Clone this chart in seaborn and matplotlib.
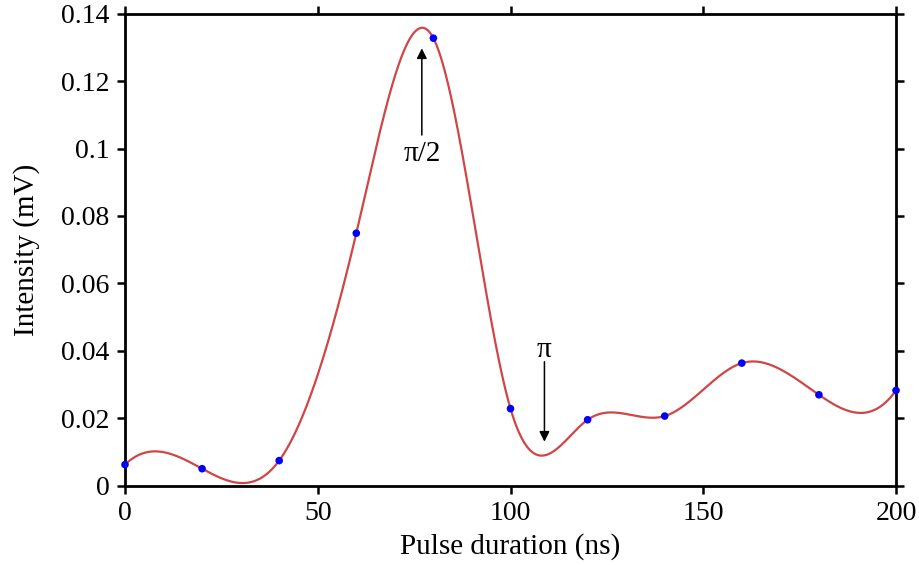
import numpy as np
import pandas as pd
import matplotlib
matplotlib.use("Agg")
import matplotlib.pyplot as plt
import seaborn as sns

# Measured intensity vs. pulse duration
pulse_ns = [0, 20, 40, 60, 80, 100, 120, 140, 160, 180, 200]
intensity_mv = [0.0063, 0.0051, 0.0075, 0.0749, 0.1327, 0.0229,
                0.0196, 0.0207, 0.0364, 0.0270, 0.0283]

# end slopes of the interpolating spline (mV per ns)
start_slope = 0.0011
end_slope = 0.0016

x_ticks = [0, 50, 100, 150, 200]
y_ticks = [0, 0.02, 0.04, 0.06, 0.08, 0.1, 0.12, 0.14]
y_tick_labels = ["0", "0.02", "0.04", "0.06", "0.08", "0.1", "0.12", "0.14"]


def clamped_cubic_spline(xk, yk, d0, dn, xs):
    """Evaluate a clamped cubic spline through (xk, yk) at xs."""
    xk = np.asarray(xk, float)
    yk = np.asarray(yk, float)
    n = len(xk)
    h = np.diff(xk)
    A = np.zeros((n, n))
    b = np.zeros(n)
    A[0, 0], A[0, 1] = 2 * h[0], h[0]
    b[0] = 6 * ((yk[1] - yk[0]) / h[0] - d0)
    A[-1, -2], A[-1, -1] = h[-1], 2 * h[-1]
    b[-1] = 6 * (dn - (yk[-1] - yk[-2]) / h[-1])
    for i in range(1, n - 1):
        A[i, i - 1] = h[i - 1]
        A[i, i] = 2 * (h[i - 1] + h[i])
        A[i, i + 1] = h[i]
        b[i] = 6 * ((yk[i + 1] - yk[i]) / h[i] - (yk[i] - yk[i - 1]) / h[i - 1])
    m = np.linalg.solve(A, b)
    idx = np.clip(np.searchsorted(xk, xs) - 1, 0, n - 2)
    x0, x1 = xk[idx], xk[idx + 1]
    hh = x1 - x0
    t0, t1 = x1 - xs, xs - x0
    return (m[idx] * t0 ** 3 / (6 * hh) + m[idx + 1] * t1 ** 3 / (6 * hh)
            + (yk[idx] / hh - m[idx] * hh / 6) * t0
            + (yk[idx + 1] / hh - m[idx + 1] * hh / 6) * t1)


points = pd.DataFrame({"pulse": pulse_ns, "intensity": intensity_mv})
x_fine = np.linspace(min(pulse_ns), max(pulse_ns), 800)
fit = pd.DataFrame({"pulse": x_fine,
                    "intensity": clamped_cubic_spline(pulse_ns, intensity_mv,
                                                      start_slope, end_slope, x_fine)})

sns.set_style("ticks")
plt.rcParams["font.family"] = ["Liberation Serif", "DejaVu Serif"]
plt.rcParams["text.color"] = "black"
plt.rcParams["axes.labelcolor"] = "black"
plt.rcParams["xtick.color"] = "black"
plt.rcParams["ytick.color"] = "black"

fig = plt.figure(figsize=(9.19, 5.65), dpi=100)
ax = fig.add_axes([0.136, 0.140, 0.839, 0.836])

sns.lineplot(data=fit, x="pulse", y="intensity", ax=ax, color="#d04545",
             linewidth=1.6, zorder=2)
sns.scatterplot(data=points, x="pulse", y="intensity", ax=ax, color="#0000ff",
                s=30, edgecolor="none", zorder=3, clip_on=False)

ax.set_xlim(0, 200)
ax.set_ylim(0, 0.14)
ax.set_xticks(x_ticks)
ax.set_xticklabels([str(t) for t in x_ticks])
ax.set_yticks(y_ticks)
ax.set_yticklabels(y_tick_labels)
ax.set_xlabel("Pulse duration (ns)", fontsize=21, labelpad=5)
ax.set_ylabel("Intensity (mV)", fontsize=21, labelpad=15)

for side in ["top", "right", "bottom", "left"]:
    ax.spines[side].set_visible(True)
    ax.spines[side].set_linewidth(2.0)
    ax.spines[side].set_color("black")
ax.tick_params(axis="both", which="major", direction="out", length=6, width=1.8,
               labelsize=20, pad=5, top=True, right=True, labeltop=False,
               labelright=False, color="black", labelcolor="black")

arrow = dict(arrowstyle="-|>", color="black", lw=1.1, mutation_scale=15,
             shrinkA=0, shrinkB=0)
ax.annotate("", xy=(77, 0.1297), xytext=(77, 0.104), arrowprops=arrow)
ax.text(77, 0.0985, "π/2", ha="center", va="center", fontsize=21)
ax.annotate("", xy=(108.8, 0.0131), xytext=(108.8, 0.0368), arrowprops=arrow)
ax.text(108.8, 0.0403, "π", ha="center", va="center", fontsize=21)

fig.savefig("out.png", dpi=100)
